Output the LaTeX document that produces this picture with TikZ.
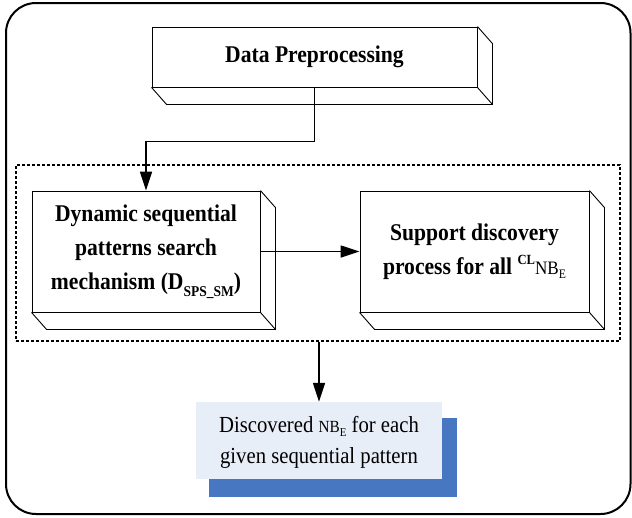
\documentclass[tikz,border=0pt]{standalone}
\usepackage{fontspec}
\setmainfont[FakeStretch=0.9]{Liberation Serif}
\usetikzlibrary{arrows.meta,calc}
\definecolor{paleblue}{HTML}{E8EEF8}
\definecolor{shadowblue}{HTML}{4877C2}

\tikzset{
  panel/.style={draw, line width=0.9pt, fill=white, inner sep=4pt, align=center,
    font=\bfseries\fontsize{24}{34}\selectfont},
  arr/.style={line width=1.6pt, -{Triangle[length=19pt,width=12pt]}},
  groupbox/.style={draw, line width=1.3pt, dash pattern=on 3pt off 2pt},
  outer/.style={draw, line width=2pt, rounded corners=30pt},
  result/.style={fill=paleblue, align=center, font=\fontsize{23}{31}\selectfont},
}

% extrusion of a 3-D box: bottom and right faces, shifted by (15,17)
\newcommand{\boxdepth}[1]{%
  \draw[line width=0.9pt] (#1.south west) -- ++(15,17) -| ($(#1.north east)+(15,17)$) -- (#1.north east);
  \draw[line width=0.9pt] (#1.south east) -- ++(15,17);
}

\begin{document}
\begin{tikzpicture}[x=1pt,y=-1pt]
  \useasboundingbox (0,0) rectangle (632,517);

  % outer frame
  \draw[outer] (6,3) rectangle (630.5,514);

  % dotted group around the two inner steps
  \node[groupbox, minimum width=604pt, minimum height=176pt, inner sep=0pt] (grp) at (318,253) {};

  % top step
  \node[panel, minimum width=325pt, minimum height=60pt] (dp) at (314.5,57) {Data Preprocessing};
  \boxdepth{dp}

  % search mechanism
  \node[panel, minimum width=228pt, minimum height=121pt] (dsps) at (146,251.5)
    {Dynamic sequential\\patterns search\\mechanism (D\raisebox{-0.28em}{\fontsize{15}{15}\selectfont SPS\_SM})};
  \boxdepth{dsps}

  % support discovery
  \node[panel, minimum width=229pt, minimum height=121pt] (sup) at (474.5,251.5)
    {Support discovery\\process for all \raisebox{0.42em}{\fontsize{14}{14}\selectfont CL}{\mdseries\fontsize{19}{19}\selectfont NB\raisebox{-0.22em}{\fontsize{13}{13}\selectfont E}}};
  \boxdepth{sup}

  % result box with its blue shadow
  \fill[shadowblue] (209,418) rectangle (457,497);
  \node[result, minimum width=246pt, minimum height=77pt, inner sep=0pt] (res) at (319,440.5) {};
  \node[result, fill=none, inner sep=0pt] (restext) at ($(res.center)+(0,2)$)
    {Discovered {\fontsize{17}{17}\selectfont NB\raisebox{-0.22em}{\fontsize{12}{12}\selectfont E}} for each\\given sequential pattern};

  % connectors
  \draw[arr] (dp.south) -- ++(0,54) -| (dsps.north);
  \draw[arr] (dsps.east) -- (sup.west);
  \draw[arr] (grp.south -| res.north) -- (res.north);
\end{tikzpicture}
\end{document}
